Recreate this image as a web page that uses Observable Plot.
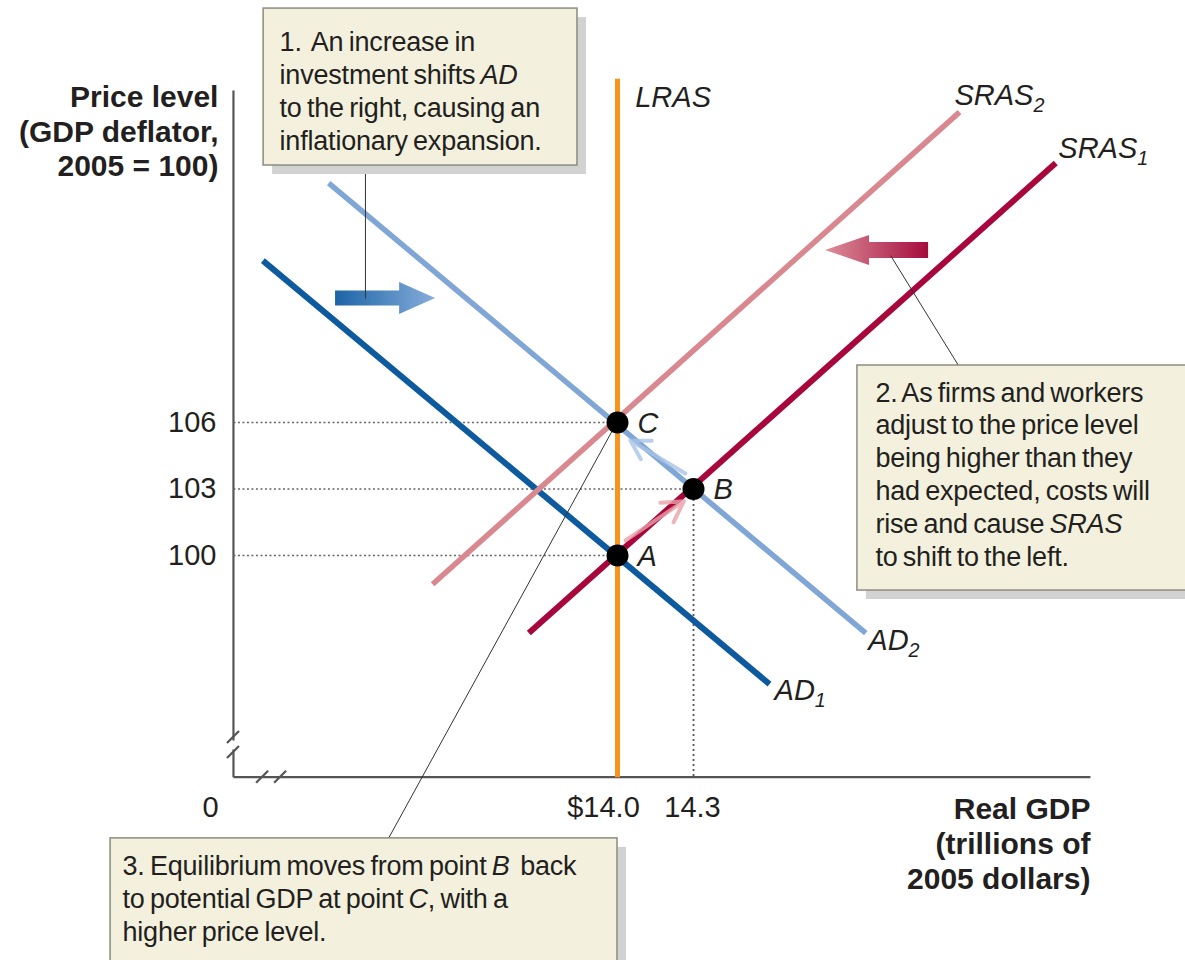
<!DOCTYPE html>
<html><head><meta charset="utf-8">
<script src="https://cdn.jsdelivr.net/npm/d3@7"></script>
<script src="https://cdn.jsdelivr.net/npm/@observablehq/plot@0.6"></script>
<style>
html,body{margin:0;padding:0;background:#fff;}
#chart{width:1185px;height:960px;overflow:hidden;}
</style></head><body><div id="chart"></div>
<script>
// ---------- data ----------
const ad1   = [[12.60, 113.3], [14.60, 94.2]];
const ad2   = [[12.86, 116.8], [14.98, 96.5]];
const sras1 = [[13.65, 96.5],  [15.73, 117.7]];
const sras2 = [[13.27, 98.7],  [15.35, 120.0]];
const lras  = [[14.0, 90.0],   [14.0, 121.5]];
const pointNames = ["A", "B", "C"];
const pointX = [14.0, 14.3, 14.0];
const pointY = [100, 103, 106];
const yTicks = [100, 103, 106];
const xTicks = [14.0, 14.3];
const xTickLabels = ["$14.0", "14.3"];
const curveLabels = ["LRAS", "SRAS_2", "SRAS_1", "AD_2", "AD_1"];
const curveLabelX = [14.07, 15.33, 15.74, 14.99, 14.62];
const curveLabelY = [120.66, 120.75, 118.36, 96.17, 93.91];
const note1 = ["1.  An increase in", "investment shifts *AD*", "to the right, causing an", "inflationary expansion."];
const note2 = ["2. As firms and workers", "adjust to the price level", "being higher than they", "had expected, costs will", "rise and cause *SRAS*", "to shift to the left."];
const note3 = ["3. Equilibrium moves from point *B*  back", "to potential GDP at point *C*, with a", "higher price level."];
const yTitle = ["Price level", "(GDP deflator,", "2005 = 100)"];
const xTitle = ["Real GDP", "(trillions of", "2005 dollars)"];

// ---------- layout (data units) ----------
const xDomain = [11.5644, 16.2421];
const yDomain = [81.732, 125.034];
const axisX0 = 12.484, axisY0 = 90, axisYTop = 120.97, axisXEnd = 15.867;
const boxes = [
  {x1: 12.603, x2: 13.842, y1: 117.59, y2: 124.67},
  {x1: 14.947, x2: 16.30,  y1: 98.42,  y2: 108.57},
  {x1: 11.999, x2: 14.0,   y1: 81.0,   y2: 87.24}
];
const noteAnchors = [[12.666, 123.80], [15.018, 108.00], [12.046, 86.65]];
const leaders = [
  [13.005, 117.59, 13.005, 111.59],
  [15.078, 113.53, 15.346, 108.57],
  [13.096, 87.24, 13.98, 105.64]
];
const smallArrows = [
  {x1: 14.032, y1: 100.68, x2: 14.262, y2: 102.45, c: "#e8a0a8"},
  {x1: 14.268, y1: 103.70, x2: 14.051, y2: 105.19, c: "#a8c3e6"}
];

const FONT = "'Liberation Sans', Arial, Helvetica, sans-serif";
const INK = "#231f20";

function bigArrow(x1, y1, x2, y2, shaftW, headW, headL, cFrom, cTo, id) {
  return (index, scales) => {
    const X1 = scales.x(x1), Y1 = scales.y(y1), X2 = scales.x(x2), Y2 = scales.y(y2);
    const len = Math.hypot(X2 - X1, Y2 - Y1);
    const ux = (X2 - X1) / len, uy = (Y2 - Y1) / len, nx = -uy, ny = ux;
    const bx = X2 - ux * headL, by = Y2 - uy * headL;
    const s = shaftW / 2, h = headW / 2;
    const pts = [[X1 + nx * s, Y1 + ny * s], [bx + nx * s, by + ny * s], [bx + nx * h, by + ny * h], [X2, Y2],
                 [bx - nx * h, by - ny * h], [bx - nx * s, by - ny * s], [X1 - nx * s, Y1 - ny * s]];
    const g = d3.create("svg:g");
    const grad = g.append("defs").append("linearGradient").attr("id", id)
      .attr("gradientUnits", "userSpaceOnUse").attr("x1", X1).attr("y1", Y1).attr("x2", X2).attr("y2", Y2);
    grad.append("stop").attr("offset", "0").attr("stop-color", cFrom);
    grad.append("stop").attr("offset", "1").attr("stop-color", cTo);
    g.append("path").attr("d", "M" + pts.map(p => p.join(",")).join("L") + "Z").attr("fill", `url(#${id})`);
    return g.node();
  };
}

function breakMarks(list) {
  return (index, scales) => {
    const g = d3.create("svg:g").attr("stroke", "#555").attr("stroke-width", 2.2);
    for (const [x, y] of list) {
      const X = scales.x(x), Y = scales.y(y);
      g.append("line").attr("x1", X - 6).attr("y1", Y + 6).attr("x2", X + 6).attr("y2", Y - 6);
    }
    return g.node();
  };
}

const curve = (data, color, w) => Plot.line(data, {x: d => d[0], y: d => d[1], stroke: color, strokeWidth: w, strokeLinecap: "butt"});

const svg = Plot.plot({
  width: 1185, height: 960, margin: 0,
  x: {domain: xDomain, axis: null},
  y: {domain: yDomain, axis: null},
  style: {fontFamily: FONT, background: "#fff", color: INK, overflow: "hidden"},
  marks: [
    // axes
    Plot.link([[axisX0, axisYTop, axisX0, 91.66], [axisX0, 91.25, axisX0, axisY0], [axisX0, axisY0, axisXEnd, axisY0]],
      {x1: d => d[0], y1: d => d[1], x2: d => d[2], y2: d => d[3], stroke: "#555", strokeWidth: 2.2}),
    breakMarks([[axisX0, 91.79], [axisX0, 91.11], [12.599, axisY0], [12.670, axisY0]]),
    // dotted guides
    Plot.link(pointNames.map((n, i) => i), {x1: () => axisX0, y1: i => pointY[i], x2: i => pointX[i], y2: i => pointY[i],
      stroke: "#666", strokeWidth: 1.6, strokeDasharray: "2,2.5"}),
    Plot.link([1], {x1: i => pointX[i], y1: i => pointY[i], x2: i => pointX[i], y2: () => axisY0,
      stroke: "#555", strokeWidth: 1.8, strokeDasharray: "2,3"}),
    // curves
    curve(ad1, "#0e5a9e", 6),
    curve(sras2, "#d98890", 5.5),
    curve(ad2, "#80a6d6", 5.5),
    curve(sras1, "#a8073c", 6),
    curve(lras, "#f7941d", 5),
    // small movement arrows
    Plot.arrow(smallArrows, {x1: "x1", y1: "y1", x2: "x2", y2: "y2", stroke: "c", strokeWidth: 4, headLength: 18, strokeOpacity: 0.8}),
    // big shift arrows
    bigArrow(12.887, 111.59, 13.282, 111.59, 15, 32, 36, "#1c64a6", "#86addb", "gBlue"),
    bigArrow(15.228, 113.76, 14.821, 113.76, 16, 30, 44, "#a50b3e", "#dc8f99", "gRed"),
    // leader lines
    Plot.link(leaders, {x1: d => d[0], y1: d => d[1], x2: d => d[2], y2: d => d[3], stroke: "#333", strokeWidth: 1}),
    // equilibrium points
    Plot.dot(pointNames.map((n, i) => i), {x: i => pointX[i], y: i => pointY[i], r: 11, fill: "#000"}),
    Plot.text(pointNames.map((n, i) => i), {x: i => pointX[i], y: i => pointY[i], text: i => pointNames[i],
      dx: 20, dy: 1, textAnchor: "start", fontSize: 29, fontStyle: "italic", fill: INK}),
    // curve labels
    Plot.text(curveLabels.map((n, i) => i), {x: i => curveLabelX[i], y: i => curveLabelY[i], text: i => curveLabels[i],
      textAnchor: "start", fontSize: 29, fontStyle: "italic", fill: INK}),
    // tick labels
    Plot.text(yTicks, {x: () => axisX0, y: d => d, text: d => String(d), dx: -17, textAnchor: "end", fontSize: 29, fill: INK}),
    Plot.text([0], {x: i => xTicks[i], y: () => axisY0, text: i => xTickLabels[i], dx: -14, dy: 31, fontSize: 29, fill: INK}),
    Plot.text([1], {x: i => xTicks[i], y: () => axisY0, text: i => xTickLabels[i], dx: -1, dy: 31, fontSize: 29, fill: INK}),
    Plot.text(["0"], {x: () => axisX0, y: () => axisY0, text: d => d, dx: -23, dy: 31, fontSize: 29, fill: INK}),
    // axis titles
    Plot.text([yTitle.join("\n")], {x: () => axisX0, y: () => axisYTop, text: d => d, dx: -15, dy: -8, textAnchor: "end",
      lineAnchor: "top", lineHeight: 1.15, fontSize: 30, fontWeight: "bold", fill: INK}),
    Plot.text([xTitle.join("\n")], {x: () => axisXEnd, y: () => axisY0, text: d => d, dy: 17, textAnchor: "end",
      lineAnchor: "top", lineHeight: 1.17, fontSize: 30, fontWeight: "bold", fill: INK}),
    // note boxes
    Plot.rect(boxes, {x1: "x1", x2: "x2", y1: "y1", y2: "y2", fill: "#d2d2d2", dx: 9, dy: 9}),
    Plot.rect(boxes, {x1: "x1", x2: "x2", y1: "y1", y2: "y2", fill: "#f3f1dd", stroke: "#8c8c80", strokeWidth: 1.5}),
    Plot.text([note1, note2, note3].map((n, i) => i), {x: i => noteAnchors[i][0], y: i => noteAnchors[i][1],
      text: i => [note1, note2, note3][i].join("\n"), textAnchor: "start", lineAnchor: "top", lineHeight: 1.22,
      fontSize: 27, fill: INK})
  ]
});

// italic (*...*) and subscript (_n) markup inside text
const NS = "http://www.w3.org/2000/svg";
svg.querySelectorAll("text").forEach(t => {
  const spans = t.querySelectorAll("tspan");
  const targets = spans.length ? Array.from(spans) : [t];
  targets.forEach(el => {
    const s = el.textContent;
    if (!/\*|_\d/.test(s)) return;
    el.textContent = "";
    for (const p of s.split(/(\*[^*]+\*|_\d)/)) {
      if (!p) continue;
      if (p[0] === "*") {
        const ts = document.createElementNS(NS, "tspan");
        ts.setAttribute("font-style", "italic"); ts.textContent = p.slice(1, -1); el.appendChild(ts);
      } else if (p[0] === "_") {
        const ts = document.createElementNS(NS, "tspan");
        ts.setAttribute("font-size", "0.68em"); ts.setAttribute("dy", "0.35em"); ts.textContent = p.slice(1); el.appendChild(ts);
      } else el.appendChild(document.createTextNode(p));
    }
  });
});
// tighter word spacing in the note boxes, as in the printed figure
svg.querySelectorAll("text").forEach(t => {
  if (t.querySelectorAll("tspan").length > 3 && t.getAttribute("text-anchor") !== "end") {
    t.setAttribute("word-spacing", "-2");
    t.setAttribute("letter-spacing", "-0.2");
  }
});

document.getElementById("chart").appendChild(svg);
</script></body></html>
